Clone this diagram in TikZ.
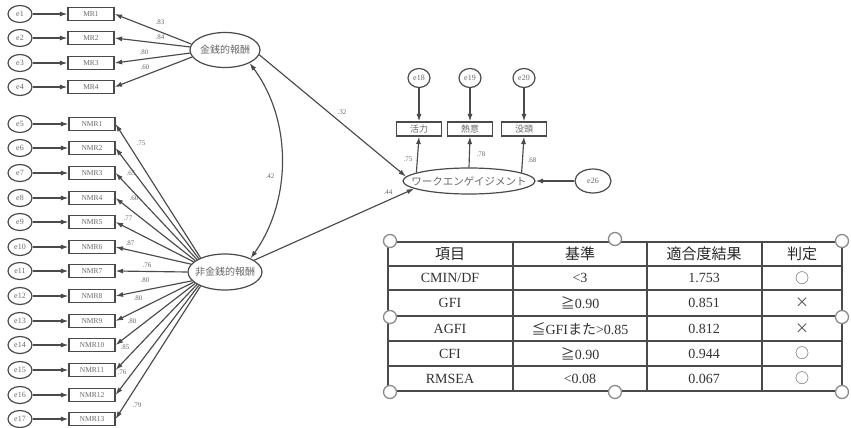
\documentclass[tikz,border=0pt]{standalone}
\usepackage{fontspec}
\setmainfont{Liberation Serif}
\newfontfamily\jp{Noto Sans CJK JP}
\usetikzlibrary{arrows.meta,shapes.geometric}
\definecolor{lc}{HTML}{4A4A4A}
\definecolor{tc}{HTML}{6A6A6A}
\definecolor{hc}{HTML}{8C8C8C}
\newcommand\zw[1]{\makebox[0pt]{#1}}
\begin{document}
\begin{tikzpicture}[x=1pt,y=-1pt,
 semline/.style={draw=lc,line width=1.15pt},
 arr/.style={semline,-{Latex[length=7.5pt,width=5pt]}},
 dbl/.style={semline,{Latex[length=7.5pt,width=5pt]}-{Latex[length=7.5pt,width=5pt]}},
 errn/.style={ellipse,draw=lc,line width=1.2pt,minimum width=24pt,minimum height=17pt,inner sep=0pt,text=tc,font=\fontsize{8}{8}\selectfont},
 obsn/.style={rectangle,draw=lc,line width=1.2pt,minimum width=46pt,minimum height=13pt,inner sep=0pt,text=tc,font=\fontsize{7.5}{7.5}\selectfont},
 latn/.style={ellipse,draw=lc,line width=1.2pt,inner sep=0pt,text=tc,font=\jp\fontsize{10}{10}\selectfont},
 jbox/.style={rectangle,draw=lc,line width=1.2pt,minimum width=45pt,minimum height=14pt,inner sep=0pt,text=tc,font=\jp\fontsize{9}{9}\selectfont},
 lbl/.style={inner sep=0pt,text=tc,font=\fontsize{7}{7}\selectfont},
 cell/.style={inner sep=0pt,text=black!80,font=\fontsize{14}{14}\selectfont},
 jcell/.style={inner sep=0pt,text=black!70,font=\jp\fontsize{14}{14}\selectfont},
 hcell/.style={inner sep=0pt,text=black!85,font=\jp\fontsize{15}{15}\selectfont},
 handle/.style={circle,draw=hc,line width=1.3pt,fill=white,minimum size=13pt,inner sep=0pt},
 gridl/.style={draw=lc,line width=1.1pt}
]
\fill[white] (0,0) rectangle (851,428);
\useasboundingbox (0,0) rectangle (851,428);

% latent variables
\node[latn,minimum width=70pt,minimum height=35pt] (money) at (225,50) {\zw{金銭的報酬}};
\node[latn,minimum width=74pt,minimum height=36pt] (nonmoney) at (225,272) {\zw{非金銭的報酬}};
\node[latn,minimum width=132pt,minimum height=26pt,font=\jp\fontsize{10.5}{10.5}\selectfont] (we) at (469,181) {\zw{ワークエンゲイジメント}};

% MR indicators
\foreach \i/\y/\a in {1/14/170,2/38/175,3/63/185,4/87/192}{
  \node[errn] (e\i) at (20,\y) {e\i};
  \node[obsn] (m\i) at (91,\y) {MR\i};
  \draw[arr] (e\i) -- (m\i);
  \draw[arr] (money.\a) -- (m\i.east);
}
% NMR indicators
\foreach \i/\y/\a [evaluate=\i as \k using int(\i+4)] in {1/124/150,2/148/153,3/173/156,4/198/159,5/222/162,6/247/167,7/271/180,8/296/195,9/321/198,10/345/201,11/370/204,12/395/207,13/419/210}{
  \node[errn] (e\k) at (20,\y) {e\k};
  \node[obsn] (n\i) at (92,\y) {NMR\i};
  \draw[arr] (e\k) -- (n\i);
  \draw[arr] (nonmoney.\a) -- (n\i.east);
}

% loading labels
\node[lbl] (l1) at (160,22) {.83};
\node[lbl] (l2) at (160,37) {.84};
\node[lbl] (l3) at (144,52) {.80};
\node[lbl] (l4) at (145,67) {.60};
\node[lbl] (k1) at (141,143) {.75};
\node[lbl] (k3) at (131,173) {.65};
\node[lbl] (k4) at (134,198) {.60};
\node[lbl] (k5) at (128,218) {.77};
\node[lbl] (k6) at (130,243) {.87};
\node[lbl] (k7) at (147,265) {.76};
\node[lbl] (k8) at (145,280) {.80};
\node[lbl] (k9) at (138,298) {.80};
\node[lbl] (k10) at (132,321) {.80};
\node[lbl] (k11) at (125,347) {.85};
\node[lbl] (k12) at (122,372) {.76};
\node[lbl] (k13) at (137,405) {.79};

% work engagement indicators
\node[jbox] (v1) at (419,129) {活力};
\node[jbox] (v2) at (470,129) {熱意};
\node[jbox] (v3) at (524,129) {没頭};
\node[errn,minimum width=22pt,minimum height=19pt] (e18) at (419,78) {e18};
\node[errn,minimum width=22pt,minimum height=19pt] (e19) at (470,78) {e19};
\node[errn,minimum width=22pt,minimum height=19pt] (e20) at (524,78) {e20};
\node[errn,minimum width=36pt,minimum height=24pt] (e26) at (593,181) {e26};
\draw[arr] (e18) -- (v1);
\draw[arr] (e19) -- (v2);
\draw[arr] (e20) -- (v3);
\draw[arr] (we.171) -- (v1.south);
\draw[arr] (we.north) -- (v2.south);
\draw[arr] (we.9) -- (v3.south);
\draw[arr] (e26) -- (we);
\node[lbl] (w1) at (408,159) {.75};
\node[lbl] (w2) at (481,154) {.78};
\node[lbl] (w3) at (532,160) {.68};

% structural paths
\draw[arr] (money.-8) -- (we.176);
\draw[arr] (nonmoney.22) -- (we.188);
\draw[dbl] (money.-28) .. controls (292,120) and (292,200) .. (nonmoney.28);
\node[lbl] (p1) at (342,112) {.32};
\node[lbl] (p2) at (388,192) {.44};
\node[lbl] (p3) at (270,176) {.42};

% fit table
\foreach \y in {242,266,290,316,341,366,391}{\draw[gridl] (388,\y) -- (842,\y);}
\foreach \x in {388,513,647,762,842}{\draw[gridl] (\x,242) -- (\x,391);}
\node[hcell] (h1) at (450,254) {項目};
\node[hcell] (h2) at (580,254) {基準};
\node[hcell] (h3) at (704,254) {適合度結果};
\node[hcell] (h4) at (802,254) {判定};

\node[cell] (r1a) at (450,278) {CMIN/DF};
\node[cell] (r1b) at (580,278) {<3};
\node[cell] (r1c) at (704,278) {1.753};
\node[jcell] (r1d) at (802,278) {○};

\node[cell] (r2a) at (450,303) {GFI};
\node[cell] (r2b) at (580,303) {{\jp ≧}0.90};
\node[cell] (r2c) at (704,303) {0.851};
\node[jcell] (r2d) at (802,303) {×};

\node[cell] (r3a) at (450,328.5) {AGFI};
\node[cell] (r3b) at (580,328.5) {{\jp ≦}GFI{\jp また}>0.85};
\node[cell] (r3c) at (704,328.5) {0.812};
\node[jcell] (r3d) at (802,328.5) {×};

\node[cell] (r4a) at (450,353.5) {CFI};
\node[cell] (r4b) at (580,353.5) {{\jp ≧}0.90};
\node[cell] (r4c) at (704,353.5) {0.944};
\node[jcell] (r4d) at (802,353.5) {○};

\node[cell] (r5a) at (450,378.5) {RMSEA};
\node[cell] (r5b) at (580,378.5) {<0.08};
\node[cell] (r5c) at (704,378.5) {0.067};
\node[jcell] (r5d) at (802,378.5) {○};

% selection handles
\node[handle] (s1) at (390,241) {};
\node[handle] (s2) at (615,239) {};
\node[handle] (s3) at (842,241) {};
\node[handle] (s4) at (390,317) {};
\node[handle] (s5) at (842,317) {};
\node[handle] (s6) at (390,392) {};
\node[handle] (s7) at (615,392) {};
\node[handle] (s8) at (842,392) {};
\end{tikzpicture}
\end{document}
